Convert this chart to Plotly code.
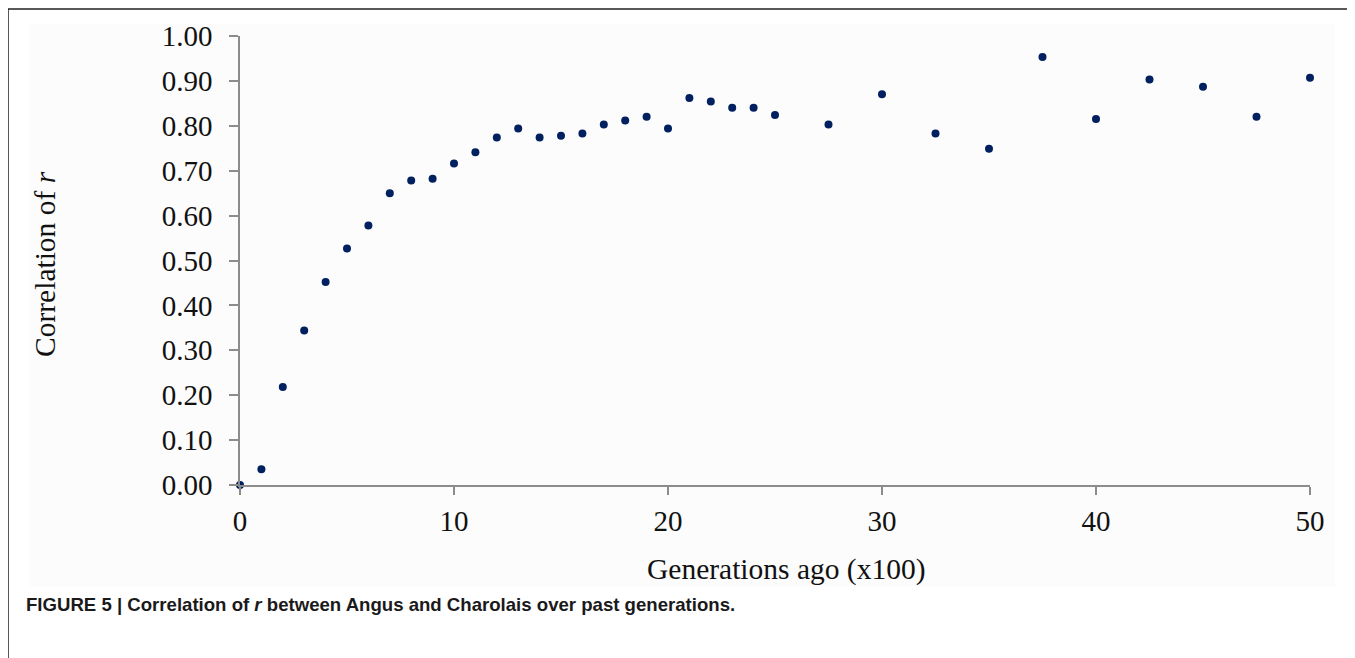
import plotly.graph_objects as go

generations = [0, 1, 2, 3, 4, 5, 6, 7, 8, 9, 10, 11, 12, 13, 14, 15, 16, 17, 18, 19, 20,
               21, 22, 23, 24, 25, 27.5, 30, 32.5, 35, 37.5, 40, 42.5, 45, 47.5, 50]
correlation = [0.000, 0.035, 0.218, 0.344, 0.452, 0.527, 0.578, 0.650, 0.678, 0.682, 0.716,
               0.741, 0.774, 0.794, 0.774, 0.778, 0.783, 0.803, 0.812, 0.820, 0.794,
               0.862, 0.854, 0.840, 0.840, 0.824, 0.803, 0.870, 0.783, 0.749, 0.953,
               0.815, 0.903, 0.887, 0.820, 0.907]
x_ticks = [0, 10, 20, 30, 40, 50]
y_ticks = [0.0, 0.1, 0.2, 0.3, 0.4, 0.5, 0.6, 0.7, 0.8, 0.9, 1.0]
y_tick_labels = [f"{v:.2f}" for v in y_ticks]

OFF = 8  # default page body margin
W, H = 1347, 650
L, T = 240 - OFF, 34 - OFF
R = W - (1310 - OFF)
B = H - (485 - OFF)
pw, ph = W - L - R, H - T - B

def px(x):  # page pixel -> paper coord
    return (x - OFF - L) / pw

def py(y):
    return (H - B - (y - OFF)) / ph

serif = "Liberation Serif, Times New Roman, serif"
sans = "Liberation Sans, Arial, sans-serif"

fig = go.Figure()
fig.add_trace(go.Scatter(
    x=generations, y=correlation, mode="markers",
    marker=dict(size=8, color="#00205F"),
    cliponaxis=False, showlegend=False,
))

fig.update_layout(
    width=W, height=H,
    margin=dict(l=L, r=R, t=T, b=B),
    paper_bgcolor="white", plot_bgcolor="rgba(0,0,0,0)",
    xaxis=dict(range=[0, 50], tickvals=x_ticks, showgrid=False, zeroline=False,
               showline=True, linecolor="#8c8c8c", linewidth=1.5,
               ticks="outside", ticklen=8, tickcolor="#8c8c8c", tickwidth=1.5,
               tickfont=dict(family=serif, size=29, color="#111"),
               ticklabelstandoff=1),
    yaxis=dict(range=[0, 1], tickvals=y_ticks, ticktext=y_tick_labels, showgrid=False,
               zeroline=False, showline=True, linecolor="#8c8c8c", linewidth=1.5,
               ticks="outside", ticklen=9, tickcolor="#8c8c8c", tickwidth=1.5,
               tickfont=dict(family=serif, size=29, color="#111"),
               ticklabelstandoff=11),
    shapes=[
        dict(type="rect", xref="paper", yref="paper",
             x0=px(30), x1=px(1335), y0=py(22), y1=py(587),
             fillcolor="#fcfcfc", line=dict(width=0), layer="below"),
        dict(type="rect", xref="paper", yref="paper",
             x0=px(8), x1=px(1350), y0=py(7), y1=py(720),
             fillcolor="rgba(0,0,0,0)", line=dict(color="#222", width=1.5)),
    ],
    annotations=[
        dict(text="Generations ago (x100)", xref="paper", yref="paper",
             x=px(786), y=py(570), xanchor="center", yanchor="middle",
             showarrow=False, font=dict(family=serif, size=29.5, color="#111")),
        dict(text="Correlation of <i>r</i>", xref="paper", yref="paper",
             x=px(45), y=py(263), xanchor="center", yanchor="middle", textangle=-90,
             showarrow=False, font=dict(family=serif, size=29.5, color="#111")),
        dict(text="<b>FIGURE 5 | Correlation of <i>r</i> between Angus and Charolais over past generations.</b>",
             xref="paper", yref="paper", x=px(24), y=py(605), xanchor="left", yanchor="middle",
             showarrow=False, font=dict(family=sans, size=18.6, color="#1a1a1a")),
    ],
)

fig.write_html("out.html")
